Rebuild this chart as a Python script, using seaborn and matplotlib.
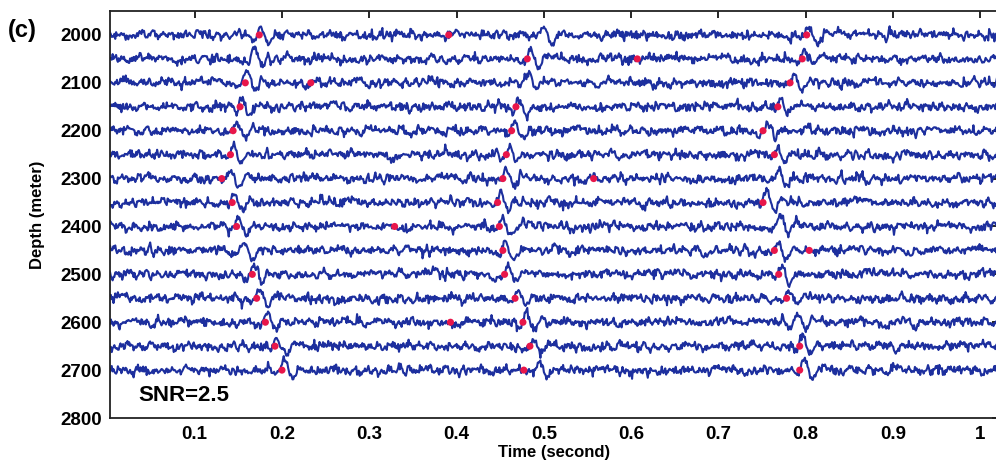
import numpy as np
import pandas as pd
import matplotlib
matplotlib.use("Agg")
import matplotlib.pyplot as plt
import seaborn as sns

# Receiver depths (m)
depths = [2000, 2050, 2100, 2150, 2200, 2250, 2300, 2350, 2400, 2450,
          2500, 2550, 2600, 2650, 2700]

# Arrival times (s) of the three reflected events on each trace
arrival_1 = [0.176, 0.168, 0.160, 0.154, 0.148, 0.144, 0.140, 0.145, 0.150,
             0.157, 0.168, 0.174, 0.183, 0.194, 0.203]
arrival_2 = [0.500, 0.484, 0.482, 0.471, 0.466, 0.460, 0.456, 0.450, 0.452,
             0.456, 0.459, 0.470, 0.479, 0.487, 0.495]
arrival_3 = [0.804, 0.799, 0.786, 0.771, 0.756, 0.767, 0.768, 0.755, 0.770,
             0.768, 0.772, 0.781, 0.790, 0.796, 0.798]

# Automatic picks (s) marked on each trace
picks = [
    [0.174, 0.391, 0.801],
    [0.481, 0.607, 0.796],
    [0.158, 0.233, 0.782],
    [0.152, 0.468, 0.768],
    [0.144, 0.463, 0.751],
    [0.141, 0.457, 0.764],
    [0.131, 0.453, 0.557],
    [0.143, 0.447, 0.751],
    [0.148, 0.329, 0.449],
    [0.453, 0.764, 0.804],
    [0.166, 0.455, 0.769],
    [0.171, 0.467, 0.778],
    [0.181, 0.393, 0.476],
    [0.192, 0.484, 0.793],
    [0.200, 0.477, 0.793],
]

snr = 2.5
x_ticks = [0.1, 0.2, 0.3, 0.4, 0.5, 0.6, 0.7, 0.8, 0.9, 1.0]
x_tick_labels = ["0.1", "0.2", "0.3", "0.4", "0.5", "0.6", "0.7", "0.8", "0.9", "1"]
y_ticks = [2000, 2100, 2200, 2300, 2400, 2500, 2600, 2700, 2800]

dt = 0.001
t = np.arange(0.0, 1.03, dt)
f0 = 48.0
noise_std = 5.2          # trace units in metres of the depth axis
amp = 18.0


def ricker(tt, f):
    a = (np.pi * f * tt) ** 2
    return (1 - 2 * a) * np.exp(-a)


def wavelet(t0):
    return ricker(t - t0, f0) - 0.7 * ricker(t - t0 - 0.010, f0)


rng = np.random.default_rng(11)
rows = []
for i, d in enumerate(depths):
    # jagged broadband noise: white component plus a short-window smoothed part
    white = rng.standard_normal(t.size)
    slow = np.convolve(rng.standard_normal(t.size), np.ones(4) / 4, mode="same")
    n = 1.0 * white + 0.9 * slow / slow.std()
    n = n / n.std()
    sig = wavelet(arrival_1[i]) + wavelet(arrival_2[i]) + wavelet(arrival_3[i])
    trace = noise_std * n + amp * sig / np.abs(sig).max()
    rows.append(pd.DataFrame({"time": t, "y": d - trace, "depth": d}))
traces = pd.DataFrame(pd.concat(rows, ignore_index=True))

pick_df = pd.DataFrame({
    "time": [p for ps in picks for p in ps],
    "y": [d for d, ps in zip(depths, picks) for _ in ps],
})

sns.set_style("white")
plt.rcParams["font.family"] = ["Liberation Sans", "DejaVu Sans"]
plt.rcParams["font.weight"] = "bold"
plt.rcParams["text.color"] = "black"
plt.rcParams["axes.labelcolor"] = "black"
plt.rcParams["xtick.color"] = "black"
plt.rcParams["ytick.color"] = "black"

fig = plt.figure(figsize=(9.96, 4.61), dpi=100)
ax = fig.add_axes([110 / 996, 1 - 418 / 461, 889 / 996, (418 - 11) / 461])

sns.lineplot(data=traces, x="time", y="y", units="depth", estimator=None,
             sort=False, color="#1d2f9e", linewidth=1.5, ax=ax, legend=False)
sns.scatterplot(data=pick_df, x="time", y="y", color="#e8164a", s=26,
                marker="o", edgecolor="none", zorder=5, ax=ax, legend=False)

ax.set_xlim(0.003, 1.0213)
ax.set_ylim(2800, 1950)
ax.set_xticks(x_ticks)
ax.set_xticklabels(x_tick_labels)
ax.set_yticks(y_ticks)
ax.tick_params(direction="in", top=True, right=True, length=5, width=1.2,
               labelsize=13.5, pad=6)
for lab in ax.get_xticklabels() + ax.get_yticklabels():
    lab.set_fontweight("bold")
for s in ax.spines.values():
    s.set_linewidth(1.3)
    s.set_color("#222222")

ax.set_xlabel("Time (second)", fontsize=12, fontweight="bold", labelpad=1)
ax.set_ylabel("Depth (meter)", fontsize=12, fontweight="bold", labelpad=11)
ax.text(0.035, 2775, f"SNR={snr}", fontsize=16, fontweight="bold",
        ha="left", va="bottom")
fig.text(8 / 996, 1 - 30 / 461, "(c)", fontsize=17, fontweight="bold",
         ha="left", va="center")

fig.savefig("out.png", dpi=100)
